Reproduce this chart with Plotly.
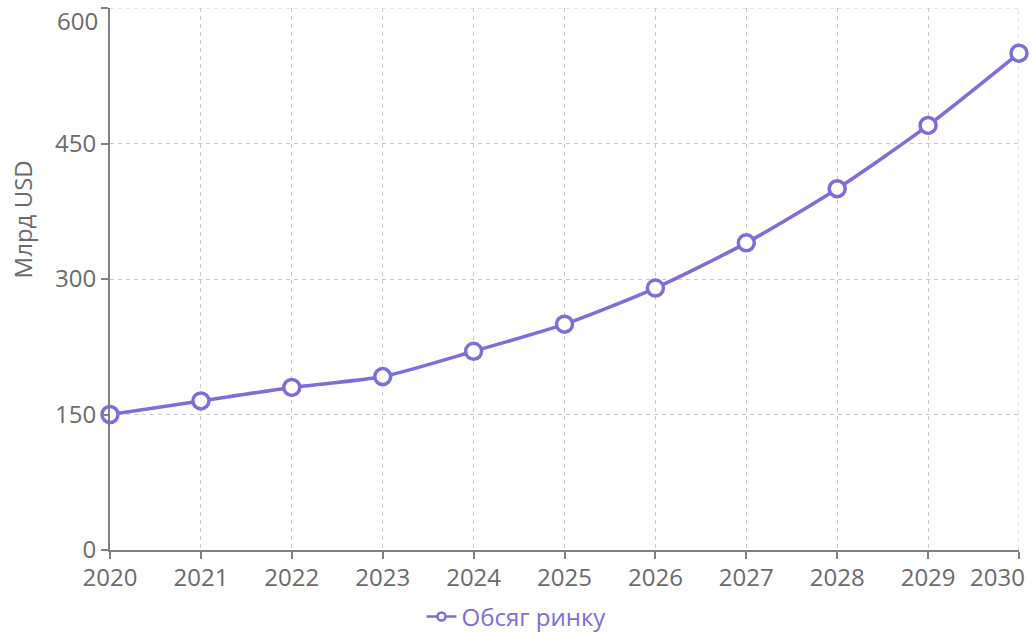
import plotly.graph_objects as go

years = [2020, 2021, 2022, 2023, 2024, 2025, 2026, 2027, 2028, 2029, 2030]
market = [150, 165, 180, 192, 220, 250, 290, 340, 400, 470, 550]
y_ticks = [0, 150, 300, 450, 600]
series_name = "Обсяг ринку"
y_title = "Млрд USD"

color = "#7B6FD8"
text_color = "#6b6b6b"
font_family = "Open Sans"
fsize = 24

fig = go.Figure()
fig.add_trace(go.Scatter(
    x=years, y=market, name=series_name,
    mode="lines+markers",
    line=dict(color=color, width=3.5, shape="spline", smoothing=0.7),
    marker=dict(symbol="circle", size=16, color="white", line=dict(color=color, width=3.5)),
    cliponaxis=False, showlegend=False,
))
# legend-only entry with a small marker, as in the reference legend
fig.add_trace(go.Scatter(
    x=[None], y=[None], name=series_name, mode="lines+markers",
    line=dict(color=color, width=2.5),
    marker=dict(symbol="circle", size=8, color="white", line=dict(color=color, width=2.5)),
    showlegend=True,
))

grid_color = "#cccccc"
axis_common = dict(
    showgrid=True, gridcolor=grid_color, griddash="4px,4px", gridwidth=1,
    showline=True, linecolor="#808080", linewidth=2,
    ticks="outside", tickcolor="#808080", ticklen=7, tickwidth=2,
    tickfont=dict(family=font_family, size=fsize, color=text_color),
    zeroline=False,
)
x_text = [str(y) for y in years[:-1]] + [""]
y_text = [str(v) for v in y_ticks[:-1]] + [""]

fig.update_layout(
    width=1033, height=636,
    margin=dict(l=110, r=14, t=8, b=86, autoexpand=False),
    paper_bgcolor="white", plot_bgcolor="white",
    font=dict(family=font_family, color=text_color),
    xaxis=dict(range=[years[0], years[-1]], tickvals=years, ticktext=x_text,
               automargin=False, ticklabelstandoff=-2, **axis_common),
    yaxis=dict(range=[y_ticks[0], y_ticks[-1]], tickvals=y_ticks, ticktext=y_text,
               automargin=False, **axis_common),
    showlegend=True,
    legend=dict(orientation="h", x=0.5, xanchor="center", xref="container",
                y=0.03, yanchor="middle", yref="container",
                font=dict(family=font_family, size=fsize, color=color),
                itemwidth=30),
)
# edge gridlines (top at max y, right at last year) drawn in data coordinates
fig.add_shape(type="line", xref="x", yref="y", x0=years[0], x1=years[-1], y0=y_ticks[-1], y1=y_ticks[-1],
              line=dict(color=grid_color, width=1, dash="4px,4px"), layer="below")
fig.add_shape(type="line", xref="x", yref="y", x0=years[-1], x1=years[-1], y0=y_ticks[0], y1=y_ticks[-1],
              line=dict(color=grid_color, width=1, dash="4px,4px"), layer="below")
# right tick mark at last year
fig.add_shape(type="line", xref="x", yref="y domain", x0=years[-1], x1=years[-1], y0=0, y1=-7/542,
              line=dict(color="#808080", width=2))
# edge tick labels shifted inward so they fit, as in the reference
fig.add_annotation(x=years[-1], y=0, xref="x", yref="y domain", text=str(years[-1]),
                   showarrow=False, xanchor="right", yanchor="top", xshift=8, yshift=-8,
                   font=dict(family=font_family, size=fsize, color=text_color))
fig.add_annotation(x=0, y=y_ticks[-1], xref="x domain", yref="y", text=str(y_ticks[-1]),
                   showarrow=False, xanchor="right", yanchor="top", xshift=-10, yshift=6,
                   font=dict(family=font_family, size=fsize, color=text_color))
# y axis title, placed as in the reference
fig.add_annotation(x=0, y=0.61, xref="paper", yref="paper", text=y_title, textangle=-90,
                   showarrow=False, xanchor="center", yanchor="middle", xshift=-88,
                   font=dict(family=font_family, size=fsize, color=text_color))
fig.write_html("out.html")
